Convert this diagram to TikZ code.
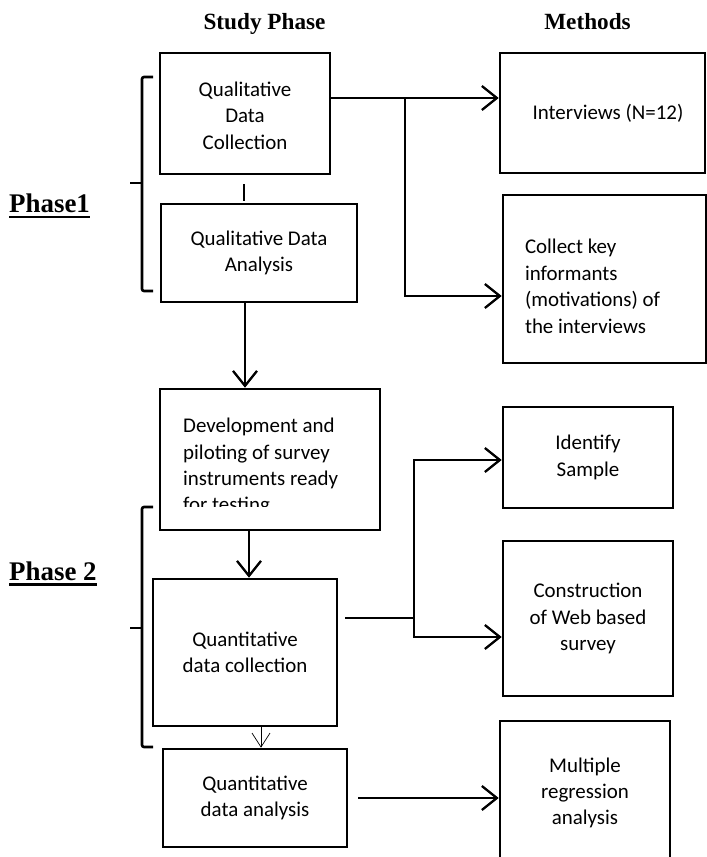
\documentclass[tikz,border=0pt]{standalone}
\usepackage{fontspec}
\setmainfont{Liberation Serif}
\newfontfamily\boxfont{Carlito}
\usetikzlibrary{arrows.meta,calc}

\begin{document}
\begin{tikzpicture}[x=1bp,y=-1bp,
  stepbox/.style={draw,line width=2.6bp,inner sep=0pt,align=center,
    font=\boxfont\fontsize{21}{26.5}\selectfont},
  boxtext/.style={inner sep=0pt,font=\boxfont\fontsize{21}{26.5}\selectfont},
  conn/.style={line width=2.3bp},
  arr/.style={conn,-{Straight Barb[length=15bp,width=24bp,line width=2.3bp]}},
  thinarr/.style={line width=0.7bp,-{Straight Barb[length=14bp,width=18bp,line width=0.7bp]}},
  brace/.style={line width=2.6bp,rounded corners=2bp},
  header/.style={font=\bfseries\fontsize{23.3}{28}\selectfont,inner sep=0pt,anchor=base},
  phase/.style={font=\bfseries\fontsize{27}{32}\selectfont,inner sep=0pt,anchor=base west},
  uline/.style={line width=2.4bp},
]
\clip (0,0) rectangle (707,857);

% column headings
\node[header] (hstudy) at (264.5,29) {Study Phase};
\node[header] (hmeth) at (587.5,29) {Methods};

% phase labels with underlines
\node[phase] (ph1) at (9,212) {Phase1};
\draw[uline] ($(ph1.base west)+(0,5)$) -- ($(ph1.base east)+(0,5)$);
\node[phase] (ph2) at (9,580) {Phase 2};
\draw[uline] ($(ph2.base west)+(0,4.5)$) -- ($(ph2.base east)+(0,4.5)$);

% brackets grouping the phases
\draw[brace] (153,77) -- (142,77) -- (142,291) -- (153,291);
\draw[brace] (130,183) -- (142,183);
\draw[brace] (153,507) -- (142,507) -- (142,747) -- (153,747);
\draw[brace] (130,628) -- (142,628);

% study phase column
\node[stepbox,minimum width=170bp,minimum height=121bp] (qdc) at (245,113.5)
  {\rule{0pt}{19bp}Qualitative\\Data\\Collection};
\node[stepbox,minimum width=196bp,minimum height=98bp] (qda) at (259,253)
  {Qualitative Data\\Analysis};
\node[stepbox,minimum width=220bp,minimum height=141bp] (dev) at (270,459.5) {};
\begin{scope}
  \clip (dev.north west) rectangle (380,506);
  \node[boxtext,text width=174bp,align=flush left,anchor=north west] (devtext) at (183,418)
    {Development and\\piloting of survey\\instruments ready\\for testing};
\end{scope}
\node[stepbox,minimum width=184bp,minimum height=147bp] (qnc) at (245,652.5)
  {Quantitative\\data collection};
\node[stepbox,minimum width=184bp,minimum height=98bp] (qna) at (255,798)
  {Quantitative\\data analysis};

% methods column
\node[stepbox,minimum width=205bp,minimum height=120bp] (int) at (602.5,113)
  {\hspace*{11bp}Interviews (N=12)};
\node[stepbox,minimum width=203bp,minimum height=168bp,text width=159bp,align=flush left] (key) at (604.5,279)
  {\rule{0pt}{29bp}Collect key\\informants\\(motivations) of\\the interviews};
\node[stepbox,minimum width=170bp,minimum height=101bp] (ids) at (588,457.5)
  {Identify\\Sample};
\node[stepbox,minimum width=170bp,minimum height=155bp] (web) at (588,618.5)
  {Construction\\of Web based\\survey};
\node[stepbox,minimum width=170bp,minimum height=144bp] (mra) at (585,793)
  {Multiple\\regression\\analysis};

% connectors, phase 1
\coordinate (j1) at (405,98);
\coordinate (j2) at (405,296);
\draw[arr] (qdc.east |- j1) -- (int.west |- j1);
\draw[arr] (j1) -- (j2) -- (key.west |- j2);
\draw[conn] ($(qdc.south)+(-1,9)$) -- ($(qdc.south |- qda.north)+(-1,-2)$);
\draw[arr] (qdc.south |- qda.south) -- (qdc.south |- dev.north);

% connectors, phase 2
\coordinate (c34) at ($(qnc.north)+(4,0)$);
\draw[arr] (c34 |- dev.south) -- (c34);
\coordinate (j3) at (414,618);
\coordinate (j3a) at (414,460);
\coordinate (j3b) at (414,637);
\draw[conn] ($(qnc.east |- j3)+(7,0)$) -- (j3);
\draw[arr] (j3) -- (j3a) -- (ids.west |- j3a);
\draw[arr] (j3) -- (j3b) -- (web.west |- j3b);
\draw[thinarr] ($(qnc.south)+(16,0)$) -- ($(qnc.south |- qna.north)+(16,0)$);
\draw[arr] ($(qna.east)+(10,0)$) -- (mra.west |- qna.east);
\end{tikzpicture}
\end{document}
